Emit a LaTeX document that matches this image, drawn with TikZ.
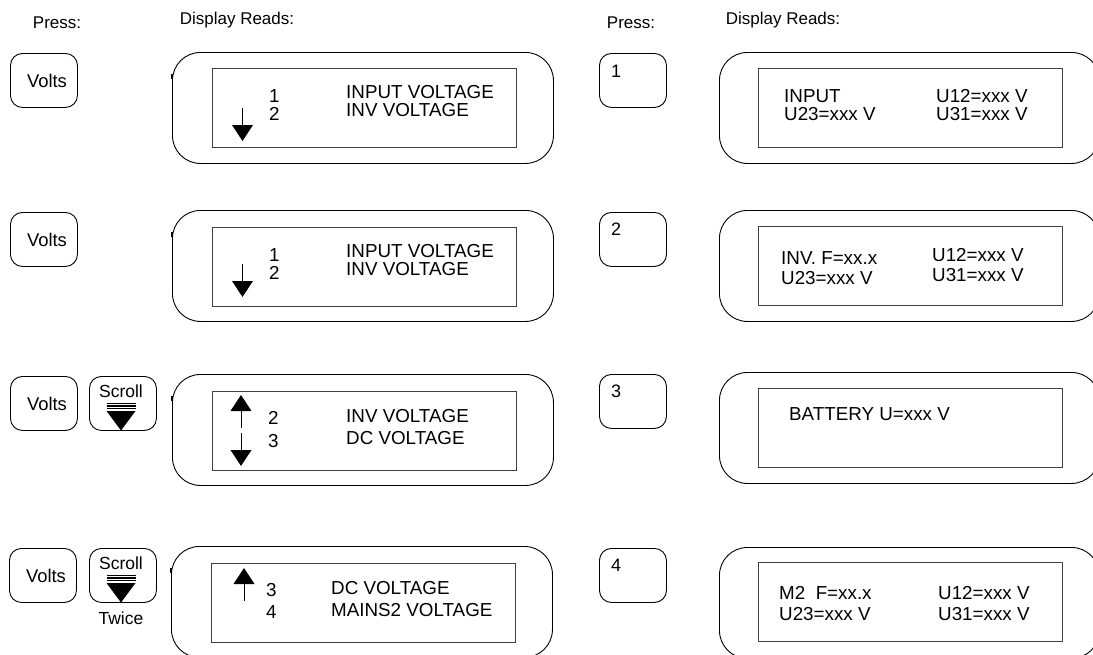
\documentclass[tikz,border=0pt]{standalone}
\usepackage{fontspec}
\setmainfont{Liberation Sans}
\begin{document}
\begin{tikzpicture}[x=1pt,y=-1pt,
  btn/.style={draw, line width=0.9pt, rounded corners=12pt, minimum width=67pt, minimum height=54pt, anchor=north west, inner sep=0pt},
  outerbox/.style={draw, line width=0.9pt, rounded corners=28pt, minimum height=111pt, anchor=north west, inner sep=0pt},
  innerbox/.style={draw=black!75, line width=0.8pt, minimum height=79pt, minimum width=304pt, anchor=north west, inner sep=0pt},
  txt/.style={anchor=base west, inner sep=0pt, font=\fontsize{18.8}{20}\selectfont},
  btntxt/.style={anchor=base, inner sep=0pt, font=\fontsize{18.4}{20}\selectfont},
  hdr/.style={anchor=base, inner sep=0pt, font=\fontsize{17}{19}\selectfont},
  small/.style={anchor=base, inner sep=0pt, font=\fontsize{17.5}{19}\selectfont},
  tick/.style={line width=1.8pt},
  dnarrow/.pic={\draw[line width=0.8pt] (0,0) -- (0,17); \fill (-10.5,17) -- (10.5,17) -- (0,33) -- cycle;},
  uparrow/.pic={\fill (0,0) -- (10.5,16) -- (-10.5,16) -- cycle; \draw[line width=0.8pt] (0,16) -- (0,33);},
  scrollmark/.pic={\foreach \yy in {0,2.5,5} \draw[line width=1.3pt] (-14.5,\yy) -- (14.5,\yy); \fill (-14.5,7.5) -- (14.5,7.5) -- (0,27) -- cycle;}
]
\useasboundingbox (0,0) rectangle (1093,654);
\clip (0,0) rectangle (1093,654);

% headers
\node[hdr] (h1) at (57,28) {Press:};
\node[hdr] (h2) at (237,24) {Display Reads:};
\node[hdr] (h3) at (631,28) {Press:};
\node[hdr] (h4) at (783,24) {Display Reads:};

% left buttons
\node[btn] (v1) at (10,53) {};
\node[btntxt] (v1t) at (47,87) {Volts};
\node[btn] (v2) at (10,212) {};
\node[btntxt] (v2t) at (47,246) {Volts};
\node[btn] (v3) at (10,376) {};
\node[btntxt] (v3t) at (47,410) {Volts};
\node[btn] (v4) at (9,548) {};
\node[btntxt] (v4t) at (46,582) {Volts};

\node[btn] (s3) at (89,376) {};
\node[small] (s3t) at (121,397) {Scroll};
\pic (s3m) at (121,403.5) {scrollmark};
\node[btn] (s4) at (89,548) {};
\node[small] (s4t) at (121,569) {Scroll};
\pic (s4m) at (121,575.5) {scrollmark};
\node[small] (tw) at (121,624) {Twice};

% left displays
\node[outerbox, minimum width=381pt] (d1) at (172,52) {};
\node[innerbox] (i1) at (212,68) {};
\node[outerbox, minimum width=381pt] (d2) at (172,210) {};
\node[innerbox] (i2) at (212,227) {};
\node[outerbox, minimum width=381pt] (d3) at (172,374) {};
\node[innerbox] (i3) at (212,391) {};
\node[outerbox, minimum width=381pt] (d4) at (171,546) {};
\node[innerbox] (i4) at (211,563) {};
\draw[tick] (172,74) -- (172,79);
\draw[tick] (172,232) -- (172,237);
\draw[tick] (172,396) -- (172,401);
\draw[tick] (171,568) -- (171,573);

% row 1 left texts
\node[txt] (n11) at (269,102) {1};
\node[txt] (n12) at (269,120) {2};
\node[txt] (l11) at (346,98) {INPUT VOLTAGE};
\node[txt] (l12) at (346,116) {INV VOLTAGE};
\pic (a1) at (242.5,108) {dnarrow};
% row 2
\node[txt] (n21) at (269,261) {1};
\node[txt] (n22) at (269,279) {2};
\node[txt] (l21) at (346,257) {INPUT VOLTAGE};
\node[txt] (l22) at (346,275) {INV VOLTAGE};
\pic (a2) at (242.5,264) {dnarrow};
% row 3
\node[txt] (n31) at (268,424) {2};
\node[txt] (n32) at (268,447) {3};
\node[txt] (l31) at (346,422) {INV VOLTAGE};
\node[txt] (l32) at (346,444) {DC VOLTAGE};
\pic (a3u) at (241,395) {uparrow};
\pic (a3d) at (241,433) {dnarrow};
% row 4
\node[txt] (n41) at (266,596) {3};
\node[txt] (n42) at (266,618) {4};
\node[txt] (l41) at (331,594) {DC VOLTAGE};
\node[txt] (l42) at (331,616) {MAINS2 VOLTAGE};
\pic (a4u) at (244,568) {uparrow};

% number buttons
\node[btn] (k1) at (599,53) {};
\node[txt, font=\fontsize{18}{20}\selectfont] (k1t) at (611,77) {1};
\node[btn] (k2) at (599,212) {};
\node[txt, font=\fontsize{18}{20}\selectfont] (k2t) at (611,235) {2};
\node[btn] (k3) at (599,374) {};
\node[txt, font=\fontsize{18}{20}\selectfont] (k3t) at (611,397) {3};
\node[btn] (k4) at (599,548) {};
\node[txt, font=\fontsize{18}{20}\selectfont] (k4t) at (611,571) {4};

% right displays
\node[outerbox, minimum width=380pt] (r1) at (719,52) {};
\node[innerbox] (ri1) at (758,68) {};
\node[outerbox, minimum width=380pt] (r2) at (719,210) {};
\node[innerbox] (ri2) at (758,226) {};
\node[outerbox, minimum width=380pt] (r3) at (719,372) {};
\node[innerbox] (ri3) at (758,388) {};
\node[outerbox, minimum width=380pt] (r4) at (719,547) {};
\node[innerbox] (ri4) at (758,562) {};

\node[txt] (t11) at (784,102) {INPUT};
\node[txt] (t12) at (784,120) {U23=xxx V};
\node[txt] (t13) at (936,102) {U12=xxx V};
\node[txt] (t14) at (936,120) {U31=xxx V};

\node[txt] (t21) at (781,264) {INV. F=xx.x};
\node[txt] (t22) at (781,284) {U23=xxx V};
\node[txt] (t23) at (932,261) {U12=xxx V};
\node[txt] (t24) at (932,281) {U31=xxx V};

\node[txt] (t31) at (789,420) {BATTERY U=xxx V};

\node[txt] (t41) at (779,599) {M2~~F=xx.x};
\node[txt] (t42) at (779,620) {U23=xxx V};
\node[txt] (t43) at (938,599) {U12=xxx V};
\node[txt] (t44) at (938,620) {U31=xxx V};
\end{tikzpicture}
\end{document}
